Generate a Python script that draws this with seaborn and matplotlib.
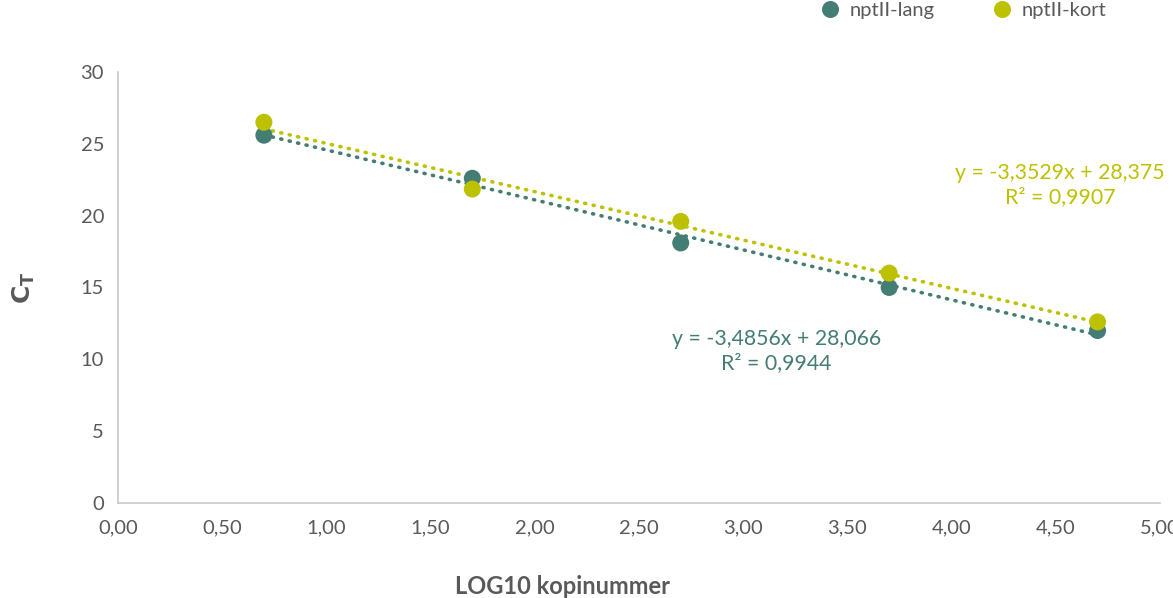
import numpy as np
import pandas as pd
import matplotlib
matplotlib.use('Agg')
import matplotlib.pyplot as plt
import seaborn as sns

# data
log_copies = [0.70, 1.70, 2.70, 3.70, 4.70]
ct_lang = [25.6, 22.6, 18.1, 15.0, 12.0]
ct_kort = [26.5, 21.85, 19.6, 16.0, 12.6]
series_names = ['nptII-lang', 'nptII-kort']
eq_lang = 'y = -3,4856x + 28,066\nR² = 0,9944'
eq_kort = 'y = -3,3529x + 28,375\nR² = 0,9907'
x_ticks = [0, 0.5, 1, 1.5, 2, 2.5, 3, 3.5, 4, 4.5, 5]
y_ticks = [0, 5, 10, 15, 20, 25, 30]

col_lang = '#437D73'
col_kort = '#BCC100'
grey = '#595959'

sns.set_theme(style='white')
plt.rcParams['font.family'] = ['Lato', 'DejaVu Sans']

df = pd.DataFrame({
    'x': log_copies * 2,
    'ct': ct_lang + ct_kort,
    'serie': [series_names[0]] * 5 + [series_names[1]] * 5,
})

fig = plt.figure(figsize=(11.73, 5.98), dpi=100)
ax = fig.add_axes([0.1006, 0.159, 0.8884, 0.7206])

# trendlines (dotted, Excel style)
for name, col in zip(series_names, [col_lang, col_kort]):
    sub = df[df['serie'] == name]
    sns.regplot(data=sub, x='x', y='ct', ax=ax, ci=None, scatter=False, truncate=True,
                line_kws=dict(color=col, lw=2.6, linestyle=(0, (0.3, 2.1)),
                              dash_capstyle='round'))

sns.scatterplot(data=df, x='x', y='ct', hue='serie', palette=[col_lang, col_kort],
                s=150, edgecolor='none', ax=ax, zorder=5)

ax.text(3.16, 10.6, eq_lang, color=col_lang, fontsize=15.3, ha='center', va='center',
        linespacing=1.25)
ax.text(4.52, 22.1, eq_kort, color=col_kort, fontsize=15.3, ha='center', va='center',
        linespacing=1.25)

ax.set_xlim(0, 5)
ax.set_ylim(0, 30)
ax.set_xticks(x_ticks)
ax.set_xticklabels([f'{v:.2f}'.replace('.', ',') for v in x_ticks])
ax.set_yticks(y_ticks)
ax.tick_params(axis='both', colors=grey, labelsize=14.5, length=0)
ax.tick_params(axis='x', pad=12)
ax.tick_params(axis='y', pad=10)

for s in ['top', 'right']:
    ax.spines[s].set_visible(False)
for s in ['left', 'bottom']:
    ax.spines[s].set_color('#C8C8C8')
    ax.spines[s].set_linewidth(1.2)

ax.set_xlabel('LOG10 kopinummer', fontsize=17, fontweight='bold', color=grey)
ax.xaxis.set_label_coords(0.427, -0.168)
ax.set_ylabel('$\\mathbf{C_T}$', fontsize=18, color=grey)
ax.yaxis.set_label_coords(-0.078, 0.5)

ax.legend(loc='upper right', bbox_to_anchor=(0.966, 1.205), ncol=2, frameon=False,
          fontsize=14.5, handletextpad=0.0, columnspacing=2.3, markerscale=1.0,
          labelcolor=grey, title=None)

fig.savefig('out.png', dpi=100)
